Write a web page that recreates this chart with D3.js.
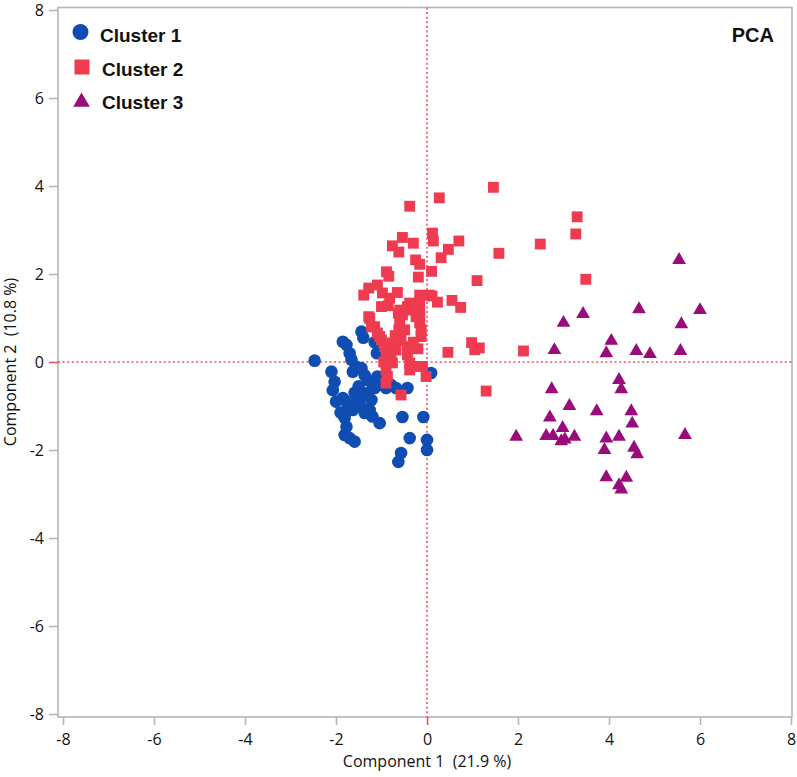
<!DOCTYPE html>
<html><head><meta charset="utf-8">
<script src="https://cdn.jsdelivr.net/npm/d3@7"></script>
<style>body{margin:0;background:#fff}svg{display:block}</style>
</head><body><svg id="c" width="797" height="777"></svg>
<script>
const seriesNames = ["Cluster 1", "Cluster 2", "Cluster 3"];
const seriesColors = ["#0f4db3", "#ef3b4f", "#990c7b"];
const cluster1 = [[-2.47,0.03],[-1.44,0.69],[-1.4,0.55],[-1.85,0.46],[-1.77,0.39],[-1.7,0.2],[-1.66,0.05],[-1.15,0.45],[-1.1,0.2],
  [-2.1,-0.22],[-2.03,-0.45],[-2.07,-0.64],[-1.63,-0.22],[-1.55,-0.11],[-1.44,-0.14],[-1.37,-0.3],[-1.3,-0.41],[-1.22,-0.48],[-1.15,-0.59],
  [-1.85,-0.82],[-1.77,-0.9],[-1.74,-1.02],[-1.63,-1.09],[-1.55,-0.93],[-1.59,-0.7],[-1.44,-1.02],[-1.37,-1.16],[-1.26,-1.09],[-1.2,-1.24],
  [-1.04,-1.39],[-1.81,-1.27],[-1.77,-1.47],[-1.81,-1.66],[-1.7,-1.73],[-1.59,-1.81],[-1.09,-0.33],[-1.04,-0.52],[-0.9,-0.59],[-0.79,-0.52],
  [-0.68,-0.59],[-0.43,-0.59],[0.09,-0.25],[-0.54,-1.25],[-0.08,-1.25],[-0.38,-1.73],[0.0,-1.77],[0.0,-2.0],[-0.57,-2.07],[-0.63,-2.27],
  [-1.33,-0.71],[-1.44,-0.79],[-1.22,-0.86],[-1.5,-0.55],[-1.9,-1.15],[-2.0,-0.9]];
const cluster2 = [[1.46,3.97],[0.27,3.73],[-0.38,3.54],[3.3,3.3],[3.27,2.91],[2.49,2.68],[0.12,2.93],[0.14,2.75],[0.7,2.75],[0.47,2.56],
  [0.31,2.37],[1.58,2.47],[0.1,2.06],[1.1,1.85],[3.49,1.88],[0.11,1.5],[0.23,1.36],[0.55,1.4],[0.74,1.24],[0.46,0.22],[0.98,0.44],
  [1.05,0.28],[1.15,0.32],[2.12,0.25],[1.3,-0.66],[-0.54,2.83],[-0.76,2.64],[-0.3,2.7],[-0.62,2.5],[-0.25,2.32],[-0.16,2.22],[-0.89,2.05],
  [-0.84,1.95],[-0.19,1.93],[-1.28,1.68],[-1.39,1.52],[-1.09,1.75],[-0.98,1.57],[-0.82,1.45],[-0.65,1.58],[-1.0,1.26],[-0.85,1.28],
  [-1.28,1.03],[-0.38,1.34],[-0.16,1.52],[-0.16,1.37],[-0.16,1.18],[-0.16,1.03],[0.05,1.52],[-0.63,1.11],[-0.43,1.26],[-1.15,0.8],
  [-0.6,1.18],[-0.54,1.07],[-0.6,0.89],[-0.49,0.73],[-0.62,0.73],[-0.32,1.18],[-0.24,1.03],[-0.16,0.89],[-0.13,0.73],[-0.13,0.58],
  [-1.22,0.8],[-1.09,0.66],[-1.0,0.5],[-0.93,0.35],[-0.9,0.2],[-0.95,0.0],[-0.9,-0.18],[-0.87,-0.33],[-0.9,-0.48],[-0.76,0.43],
  [-0.68,0.27],[-0.79,0.16],[-0.76,-0.02],[-0.57,0.5],[-0.43,0.35],[-0.43,0.16],[-0.38,-0.02],[-0.38,-0.18],[-0.24,-0.1],[-0.1,-0.1],
  [-0.02,-0.33],[-0.57,-0.75],[-1.26,0.99],[-1.04,0.58],[-0.7,0.6],[-0.3,0.45],[-0.2,0.3]];
const cluster3 = [[5.54,2.32],[4.66,1.2],[6.0,1.18],[3.43,1.09],[3.0,0.89],[5.59,0.86],[4.05,0.48],[2.8,0.27],[3.94,0.2],[4.6,0.25],
  [4.9,0.18],[5.57,0.25],[4.22,-0.41],[4.27,-0.62],[2.74,-0.62],[3.13,-1.0],[3.73,-1.12],[4.49,-1.12],[2.7,-1.26],[4.51,-1.4],[1.96,-1.7],
  [2.62,-1.68],[2.77,-1.68],[2.98,-1.5],[2.95,-1.8],[3.03,-1.76],[3.24,-1.7],[3.94,-1.74],[4.22,-1.7],[3.9,-2.0],[4.55,-1.95],[4.62,-2.1],
  [5.67,-1.66],[3.94,-2.62],[4.38,-2.63],[4.22,-2.8],[4.27,-2.9]];
const xTicks = [-8,-6,-4,-2,0,2,4,6,8];
const yTicks = [-8,-6,-4,-2,0,2,4,6,8];
const xTitle = "Component 1\u00a0\u00a0(21.9 %)";
const yTitle = "Component 2\u00a0\u00a0(10.8 %)";
const badge = "PCA";

const svg = d3.select("#c");
const frame = {l:58, r:792, t:7.5, b:717};
const x = d3.scaleLinear().domain([-8,8]).range([63,791]);
const y = d3.scaleLinear().domain([-8,8]).range([714,10]);
const refColor = "#f04f60";
const axisColor = "#b5b5b5";
const tickFont = "'Open Sans', sans-serif";

svg.append("rect").attr("x",frame.l).attr("y",frame.t).attr("width",frame.r-frame.l).attr("height",frame.b-frame.t)
  .attr("fill","#fff").attr("stroke",axisColor).attr("stroke-width",1.6);

const xAxis = svg.append("g").attr("transform",`translate(0,${frame.b})`)
  .call(d3.axisBottom(x).tickValues(xTicks).tickSize(8).tickPadding(9).tickFormat(d=>String(d)));
const yAxis = svg.append("g").attr("transform",`translate(${frame.l},0)`)
  .call(d3.axisLeft(y).tickValues(yTicks).tickSize(9).tickPadding(5).tickFormat(d=>String(d)));
[xAxis,yAxis].forEach(g=>{
  g.select(".domain").remove();
  g.selectAll(".tick line").attr("stroke",d=>d===0?refColor:axisColor).attr("stroke-width",1.6);
  g.selectAll(".tick text").attr("fill","#111").style("font-family",tickFont).style("font-size","16px");
});

svg.append("line").attr("x1",x(0)).attr("x2",x(0)).attr("y1",frame.t).attr("y2",frame.b)
  .attr("stroke",refColor).attr("stroke-width",1.6).attr("stroke-dasharray","2,2.6");
svg.append("line").attr("x1",frame.l).attr("x2",frame.r).attr("y1",y(0)).attr("y2",y(0))
  .attr("stroke",refColor).attr("stroke-width",1.6).attr("stroke-dasharray","2,2.6");

const shapes = [d3.symbolCircle, d3.symbolSquare, d3.symbolTriangle];
const sizes = [125, 118, 82];
[cluster1, cluster2, cluster3].forEach((data,i)=>{
  svg.append("g").selectAll("path").data(data).join("path")
    .attr("transform",d=>`translate(${x(d[0])},${y(d[1])})`)
    .attr("d",d3.symbol().type(shapes[i]).size(sizes[i])())
    .attr("fill",seriesColors[i]);
});

const legY = [32, 67, 102];
const legX = [80.5, 82, 81.5];
const legSizes = [200, 225, 120];
const legTextX = [100, 102, 102];
const legTextY = [42, 76, 109];
seriesNames.forEach((n,i)=>{
  svg.append("path").attr("transform",`translate(${legX[i]},${legY[i]})`)
    .attr("d",d3.symbol().type(shapes[i]).size(legSizes[i])()).attr("fill",seriesColors[i]);
  svg.append("text").attr("x",legTextX[i]).attr("y",legTextY[i]).text(n)
    .style("font-family","'Liberation Sans', Arial, sans-serif").style("font-weight","bold").style("font-size","19px").attr("fill","#111");
});
svg.append("text").attr("x",774).attr("y",42).attr("text-anchor","end").text(badge)
  .style("font-family","'Liberation Sans', Arial, sans-serif").style("font-weight","bold").style("font-size","20px").attr("fill","#111");

svg.append("text").attr("x",427).attr("y",767).attr("text-anchor","middle").text(xTitle)
  .style("font-family",tickFont).style("font-size","16px").attr("fill","#111");
svg.append("text").attr("transform","translate(16,362) rotate(-90)").attr("text-anchor","middle").text(yTitle)
  .style("font-family",tickFont).style("font-size","16px").attr("fill","#111");
</script></body></html>
